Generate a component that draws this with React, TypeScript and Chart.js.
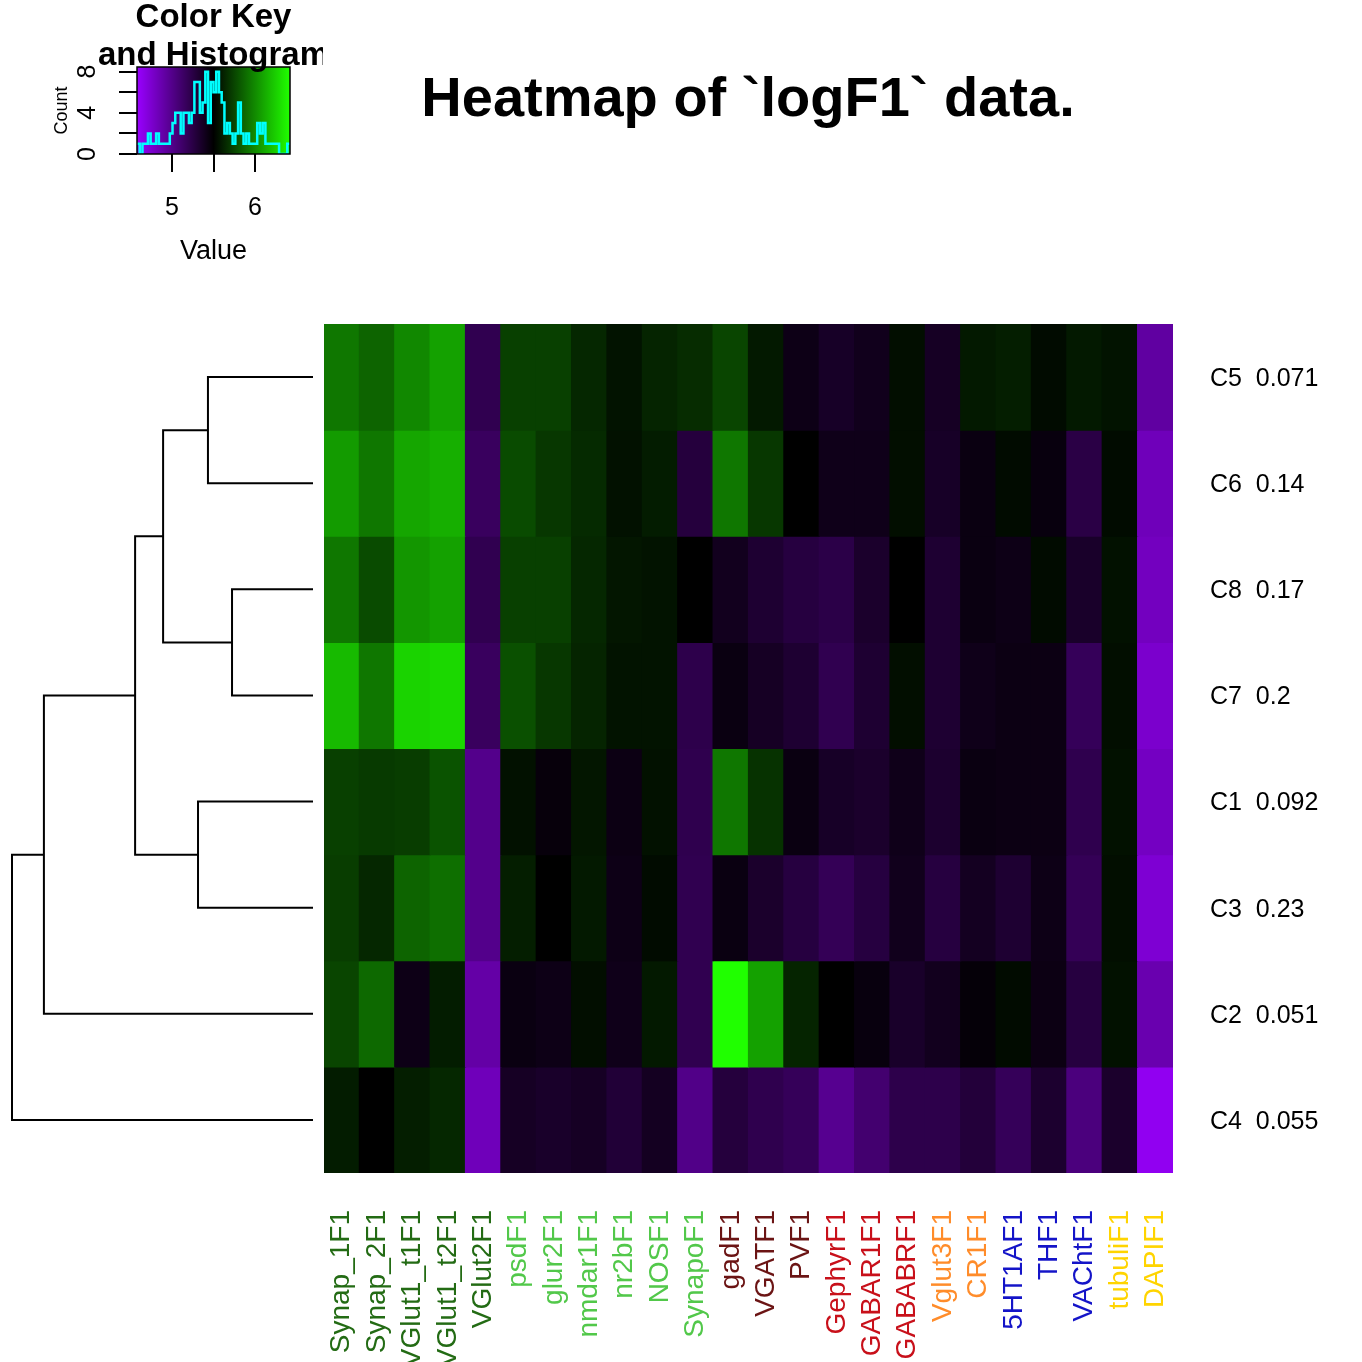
import React, { useEffect, useRef } from 'react';
import { Chart, registerables } from 'chart.js';

Chart.register(...registerables);

const FONT_FAMILY = '"Liberation Sans", Arial, Helvetica, sans-serif';

// ---- column (marker) labels and their colours ----
const columnLabels = [
  'Synap_1F1', 'Synap_2F1', 'VGlut1_t1F1', 'VGlut1_t2F1', 'VGlut2F1',
  'psdF1', 'glur2F1', 'nmdar1F1', 'nr2bF1', 'NOSF1', 'SynapoF1',
  'gadF1', 'VGATF1', 'PVF1', 'GephyrF1', 'GABAR1F1', 'GABABRF1',
  'Vglut3F1', 'CR1F1', '5HT1AF1', 'THF1', 'VAChtF1', 'tubuliF1', 'DAPIF1',
];
const columnColors = [
  '#236b14', '#236b14', '#236b14', '#236b14', '#236b14',
  '#52c84a', '#52c84a', '#52c84a', '#52c84a', '#52c84a', '#52c84a',
  '#6b1414', '#6b1414', '#6b1414', '#c8101a', '#c8101a', '#c8101a',
  '#ff8c2a', '#ff8c2a', '#1414c8', '#1414c8', '#1414c8', '#ffd400', '#ffd400',
];

// ---- rows, top to bottom (dendrogram order) ----
const rowNames = ['C5', 'C6', 'C8', 'C7', 'C1', 'C3', 'C2', 'C4'];
const rowScores = ['0.071', '0.14', '0.17', '0.2', '0.092', '0.23', '0.051', '0.055'];

const rowC5 = [5.93, 5.86, 5.99, 6.08, 5.21, 5.73, 5.73, 5.64, 5.57, 5.63, 5.66, 5.75, 5.59, 5.42, 5.36, 5.40, 5.55, 5.37, 5.59, 5.61, 5.54, 5.59, 5.57, 4.92];
const rowC6 = [6.06, 5.93, 6.10, 6.13, 5.16, 5.77, 5.70, 5.65, 5.56, 5.60, 5.28, 5.93, 5.70, 5.50, 5.41, 5.41, 5.55, 5.36, 5.44, 5.54, 5.45, 5.25, 5.54, 4.83];
const rowC8 = [5.93, 5.77, 6.04, 6.08, 5.21, 5.73, 5.73, 5.64, 5.58, 5.57, 5.50, 5.39, 5.32, 5.27, 5.24, 5.34, 5.50, 5.32, 5.44, 5.42, 5.54, 5.35, 5.56, 4.81];
const rowC7 = [6.17, 5.93, 6.26, 6.28, 5.16, 5.79, 5.70, 5.63, 5.57, 5.57, 5.23, 5.44, 5.37, 5.32, 5.21, 5.32, 5.55, 5.32, 5.41, 5.43, 5.43, 5.18, 5.55, 4.76];
const rowC1 = [5.73, 5.71, 5.72, 5.80, 5.00, 5.56, 5.46, 5.58, 5.43, 5.56, 5.22, 5.93, 5.68, 5.44, 5.36, 5.34, 5.41, 5.33, 5.44, 5.43, 5.43, 5.22, 5.56, 4.80];
const rowC3 = [5.72, 5.64, 5.86, 5.90, 5.00, 5.61, 5.50, 5.59, 5.42, 5.54, 5.21, 5.44, 5.34, 5.27, 5.19, 5.27, 5.40, 5.27, 5.38, 5.32, 5.42, 5.19, 5.55, 4.74];
const rowC2 = [5.75, 5.88, 5.42, 5.60, 4.90, 5.44, 5.42, 5.55, 5.41, 5.59, 5.21, 6.42, 6.08, 5.63, 5.50, 5.45, 5.35, 5.39, 5.47, 5.54, 5.43, 5.27, 5.56, 4.87];
const rowC4 = [5.60, 5.50, 5.61, 5.64, 4.83, 5.37, 5.35, 5.37, 5.30, 5.38, 5.01, 5.28, 5.22, 5.18, 4.98, 5.10, 5.23, 5.23, 5.29, 5.18, 5.33, 5.05, 5.34, 4.63];
const heatmapRows = [rowC5, rowC6, rowC8, rowC7, rowC1, rowC3, rowC2, rowC4];

// ---- dendrogram merges: [child, child, height]; number = earlier merge, string = leaf ----
const dendrogramMerges: [string | number, string | number, number][] = [
  ['C5', 'C6', 0.349],
  ['C8', 'C7', 0.269],
  ['C1', 'C3', 0.382],
  [0, 1, 0.498],
  [3, 2, 0.591],
  [4, 'C2', 0.894],
  [5, 'C4', 1.0],
];

// ---- colour key ----
const colorKeyMin = 4.58;
const colorKeyMid = 5.5;
const colorKeyMax = 6.42;
const lowColor = [153, 0, 255];
const highColor = [32, 255, 0];

const histogramCounts = [1, 0, 1, 1, 2, 1, 1, 2, 1, 1, 1, 1, 2, 3, 4, 4, 2, 4, 4, 3, 4, 7, 7, 4, 5, 8, 3, 7, 6, 8, 6, 5, 2, 3, 2, 1, 2, 5, 2, 1, 2, 1, 1, 1, 3, 2, 3, 1, 1, 1, 1, 1, 0, 0, 0, 1];
const histogramBinWidth = (colorKeyMax - colorKeyMin) / histogramCounts.length;

const keyXTickValues = [5, 5.5, 6];
const keyXTickLabels = ['5', '', '6'];
const keyYTickValues = [0, 2, 4, 6, 8];
const keyYTickLabels = ['0', '', '4', '', '8'];
const keyCountMax = 8.45;

function valueToColor(v: number): string {
  let c: number[];
  if (v <= colorKeyMid) {
    const t = Math.min(1, Math.max(0, (colorKeyMid - v) / (colorKeyMid - colorKeyMin)));
    c = lowColor.map((k) => Math.round(k * t));
  } else {
    const t = Math.min(1, Math.max(0, (v - colorKeyMid) / (colorKeyMax - colorKeyMid)));
    c = highColor.map((k) => Math.round(k * t));
  }
  return `rgb(${c[0]},${c[1]},${c[2]})`;
}

function buildDendrogramSegments() {
  const pos: number[] = [];
  const segs: { x: number; y: number }[][] = [];
  const info = (ref: string | number) =>
    typeof ref === 'string' ? { p: rowNames.indexOf(ref), h: 0 } : { p: pos[ref], h: dendrogramMerges[ref][2] };
  dendrogramMerges.forEach(([a, b, h], k) => {
    const A = info(a);
    const B = info(b);
    pos[k] = (A.p + B.p) / 2;
    segs.push([
      { x: A.h, y: A.p },
      { x: h, y: A.p },
      { x: h, y: B.p },
      { x: B.h, y: B.p },
    ]);
  });
  return segs;
}

const keyGradientPlugin = {
  id: 'keyGradient',
  beforeDatasetsDraw(chart: any) {
    const { ctx, chartArea, scales } = chart;
    const x = scales.x;
    const x0 = x.getPixelForValue(colorKeyMin);
    const x1 = x.getPixelForValue(colorKeyMax);
    const g = ctx.createLinearGradient(x0, 0, x1, 0);
    g.addColorStop(0, valueToColor(colorKeyMin));
    g.addColorStop((colorKeyMid - colorKeyMin) / (colorKeyMax - colorKeyMin), valueToColor(colorKeyMid));
    g.addColorStop(1, valueToColor(colorKeyMax));
    ctx.save();
    ctx.fillStyle = g;
    ctx.fillRect(chartArea.left, chartArea.top, chartArea.right - chartArea.left, chartArea.bottom - chartArea.top);
    ctx.restore();
  },
  afterDraw(chart: any) {
    const { ctx, chartArea } = chart;
    ctx.save();
    ctx.strokeStyle = '#000';
    ctx.lineWidth = 1.5;
    ctx.strokeRect(chartArea.left, chartArea.top, chartArea.right - chartArea.left, chartArea.bottom - chartArea.top);
    ctx.restore();
  },
};

export default function App() {
  const heatRef = useRef<HTMLCanvasElement>(null);
  const dendroRef = useRef<HTMLCanvasElement>(null);
  const keyRef = useRef<HTMLCanvasElement>(null);

  useEffect(() => {
    const charts: Chart[] = [];
    const nRows = rowNames.length;

    // ---------- heatmap ----------
    if (heatRef.current) {
      charts.push(
        new Chart(heatRef.current, {
          type: 'bar',
          data: {
            labels: columnLabels,
            datasets: heatmapRows.map((vals, r) => ({
              label: rowNames[r],
              data: vals.map(() => [nRows - 1 - r, nRows - r]) as any,
              backgroundColor: vals.map(valueToColor),
              borderWidth: 0,
              barPercentage: 1,
              categoryPercentage: 1,
              grouped: false,
              inflateAmount: 0.6,
            })),
          },
          options: {
            responsive: false,
            animation: false,
            layout: { padding: { left: 324, top: 324, right: 0, bottom: 0 } },
            plugins: { legend: { display: false }, tooltip: { enabled: false }, title: { display: false } },
            scales: {
              x: {
                grid: { display: false, drawTicks: false },
                border: { display: false },
                ticks: {
                  autoSkip: false,
                  minRotation: 90,
                  maxRotation: 90,
                  padding: 37,
                  font: { family: FONT_FAMILY, size: 28 },
                  color: (ctx: any) => columnColors[ctx.index] || '#000',
                },
                afterFit: (s: any) => {
                  s.height = 189;
                },
              },
              y: {
                position: 'right',
                min: 0,
                max: nRows,
                grid: { display: false, drawTicks: false },
                border: { display: false },
                afterBuildTicks: (s: any) => {
                  s.ticks = rowNames.map((_, i) => ({ value: i + 0.5 }));
                },
                ticks: {
                  padding: 37,
                  labelOffset: 2,
                  color: '#000',
                  font: { family: FONT_FAMILY, size: 25 },
                  callback: (_v: any, i: number) => `${rowNames[nRows - 1 - i]}  ${rowScores[nRows - 1 - i]}`,
                },
                afterFit: (s: any) => {
                  s.width = 189;
                },
              },
            },
          } as any,
        })
      );
    }

    // ---------- dendrogram ----------
    if (dendroRef.current) {
      const segs = buildDendrogramSegments();
      charts.push(
        new Chart(dendroRef.current, {
          type: 'scatter',
          data: {
            datasets: segs.map((pts) => ({
              data: pts,
              showLine: true,
              borderColor: '#000',
              borderWidth: 2,
              pointRadius: 0,
              fill: false,
              tension: 0,
              clip: false as any,
            })),
          },
          options: {
            responsive: false,
            animation: false,
            layout: { padding: { left: 12, right: 10, top: 10, bottom: 10 } },
            plugins: { legend: { display: false }, tooltip: { enabled: false } },
            scales: {
              x: { type: 'linear', display: false, min: 0, max: dendrogramMerges[dendrogramMerges.length - 1][2], reverse: true },
              y: { type: 'linear', display: false, min: -0.5, max: nRows - 0.5, reverse: true },
            },
          } as any,
        })
      );
    }

    // ---------- colour key + histogram ----------
    if (keyRef.current) {
      const histPoints = histogramCounts.map((c, i) => ({ x: colorKeyMin + i * histogramBinWidth, y: c }));
      histPoints.push({ x: colorKeyMax, y: histogramCounts[histogramCounts.length - 1] });
      const tickGrid = {
        display: true,
        drawOnChartArea: false,
        drawTicks: true,
        tickLength: 18,
        color: '#000',
        lineWidth: 2,
      };
      charts.push(
        new Chart(keyRef.current, {
          type: 'line',
          data: {
            datasets: [
              {
                data: histPoints,
                borderColor: '#00ffff',
                borderWidth: 2.5,
                pointRadius: 0,
                stepped: 'before',
                fill: false,
              },
            ],
          },
          options: {
            responsive: false,
            animation: false,
            layout: { padding: { left: 0, top: 67, right: 140, bottom: 0 } },
            plugins: { legend: { display: false }, tooltip: { enabled: false } },
            scales: {
              x: {
                type: 'linear',
                min: colorKeyMin,
                max: colorKeyMax,
                grid: tickGrid,
                border: { display: false },
                afterBuildTicks: (s: any) => {
                  s.ticks = keyXTickValues.map((v) => ({ value: v }));
                },
                ticks: {
                  padding: 21,
                  color: '#000',
                  font: { family: FONT_FAMILY, size: 25 },
                  callback: (_v: any, i: number) => keyXTickLabels[i],
                },
                title: {
                  display: true,
                  text: 'Value',
                  color: '#000',
                  font: { family: FONT_FAMILY, size: 27 },
                  padding: { top: 0, bottom: 22 },
                },
                afterFit: (s: any) => {
                  s.height = 136;
                },
              },
              y: {
                type: 'linear',
                min: 0,
                max: keyCountMax,
                grid: tickGrid,
                border: { display: false },
                afterBuildTicks: (s: any) => {
                  s.ticks = keyYTickValues.map((v) => ({ value: v }));
                },
                ticks: {
                  minRotation: 90,
                  maxRotation: 90,
                  crossAlign: 'center',
                  padding: 24,
                  color: '#000',
                  font: { family: FONT_FAMILY, size: 25 },
                  callback: (_v: any, i: number) => keyYTickLabels[i],
                },
                title: {
                  display: true,
                  text: 'Count',
                  color: '#000',
                  font: { family: FONT_FAMILY, size: 18 },
                  padding: { top: 51, bottom: 0 },
                },
                afterFit: (s: any) => {
                  s.width = 137;
                },
              },
            },
          } as any,
          plugins: [keyGradientPlugin],
        })
      );
    }

    return () => {
      charts.forEach((c) => c.destroy());
    };
  }, []);

  const boldTitle = (text: string, top: number, size: number, center: number) => (
    <div
      style={{
        position: 'absolute',
        left: center,
        top,
        transform: 'translateX(-50%)',
        fontFamily: FONT_FAMILY,
        fontWeight: 'bold',
        fontSize: size,
        lineHeight: `${size}px`,
        whiteSpace: 'nowrap',
        color: '#000',
      }}
    >
      {text}
    </div>
  );

  return (
    <div
      style={{
        position: 'absolute',
        left: 0,
        top: 0,
        width: 1362,
        height: 1362,
        overflow: 'hidden',
        background: '#fff',
      }}
    >
      <canvas ref={heatRef} width={1362} height={1362} style={{ position: 'absolute', left: 0, top: 0 }} />
      <canvas ref={dendroRef} width={323} height={869} style={{ position: 'absolute', left: 0, top: 314 }} />
      <canvas ref={keyRef} width={430} height={290} style={{ position: 'absolute', left: 0, top: 0 }} />
      <div style={{ position: 'absolute', left: 0, top: 0, width: 323, height: 80, overflow: 'hidden' }}>
        {boldTitle('Color Key', -1, 33, 213.5)}
        {boldTitle('and Histogram', 37, 33, 213.5)}
      </div>
      {boldTitle('Heatmap of `logF1` data.', 69, 56, 748)}
    </div>
  );
}
